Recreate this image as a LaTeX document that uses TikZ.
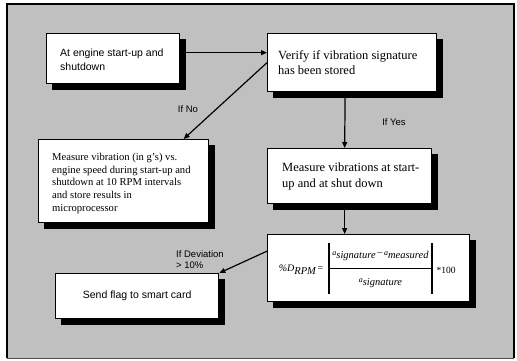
\documentclass[tikz,border=0pt]{standalone}
\usepackage{fontspec}
\setmainfont{Liberation Serif}
\newfontfamily\arialfont{Liberation Sans}
\usetikzlibrary{arrows.meta,backgrounds}
\definecolor{panelgray}{RGB}{192,192,192}
% lowered italic subscript used in the deviation formula
\newcommand{\lowsub}[1]{\raisebox{-3pt}{\fontsize{10.5}{10.5}\selectfont\itshape #1}}

\begin{document}
\begin{tikzpicture}[x=1pt,y=-1pt,
  box/.style={draw=black, line width=1.3pt, fill=white, anchor=north west, inner sep=0pt},
  boxtext/.style={anchor=west, inner sep=0pt, align=left},
  sanstext/.style={font=\arialfont\fontsize{10.5}{14}\selectfont},
  serifbig/.style={font=\fontsize{12.5}{14.5}\selectfont},
  serifsmall/.style={font=\fontsize{10.6}{12.7}\selectfont},
  lbl/.style={font=\arialfont\fontsize{9.5}{11}\selectfont, inner sep=0pt, align=left},
  arr/.style={draw=black, line width=1.2pt, -{Triangle[length=6pt,width=5pt]}},
  formula/.style={inner sep=0pt, font=\fontsize{10}{12}\selectfont},
  bar/.style={draw=black, line width=1.2pt},
  shadowfill/.style={fill=black}
]
\useasboundingbox (0,0) rectangle (517,360);

% panel
\begin{scope}[on background layer]
\fill[panelgray] (7,4) rectangle (514,358);
\draw[black, line width=2pt] (7,358) -- (7,4) -- (514,4) -- (514,358);
\draw[black!70, line width=0.8pt] (7,358) -- (514,358);
\end{scope}

% boxes
\node[box, minimum width=133, minimum height=50] (start) at (46,33) {};
\node[box, minimum width=169, minimum height=58] (verify) at (267,33) {};
\node[box, minimum width=170, minimum height=83] (record) at (38,139) {};
\node[box, minimum width=164, minimum height=55] (measure) at (267,148) {};
\node[box, minimum width=202, minimum height=67] (calc) at (267,234) {};
\node[box, minimum width=163, minimum height=45] (flag) at (55,273) {};

% drop shadows behind the boxes
\begin{scope}[on background layer]
\foreach \b in {start,verify,record,measure,calc,flag}
  \fill[shadowfill] ([xshift=6pt,yshift=-6pt]\b.north west) rectangle ([xshift=6pt,yshift=-6pt]\b.south east);
\end{scope}

% box texts
\node[boxtext, sanstext] (starttext) at ([xshift=14pt,yshift=-1pt]start.west) {At engine start-up and\\shutdown};
\node[boxtext, serifbig] (verifytext) at ([xshift=11pt,yshift=0pt]verify.west) {Verify if vibration signature\\has been stored};
\node[boxtext, serifsmall] (recordtext) at ([xshift=14pt,yshift=-2pt]record.west) {Measure vibration (in g's) vs.\\engine speed during start-up and\\shutdown at 10 RPM intervals\\and store results in\\microprocessor};
\node[boxtext, serifbig, font=\fontsize{12.5}{16}\selectfont] (measuretext) at ([xshift=15pt,yshift=0pt]measure.west) {Measure vibrations at start-\\up and at shut down};
\node[sanstext, inner sep=0pt] (flagtext) at (flag.center) {Send flag to smart card};

% deviation formula
\node[formula] (lhs) at (301,270) {\textit{\%D}\lowsub{RPM}\,=};
\draw[bar] (329,243) coordinate (barLt) -- (329,294) coordinate (barLb);
\draw[bar] (432,243) coordinate (barRt) -- (432,294) coordinate (barRb);
\draw[black, line width=0.9pt] (329,268) coordinate (fracL) -- (432,268) coordinate (fracR);
\node[formula] (num) at (380.5,256) {{\fontsize{8}{8}\selectfont\itshape a}\lowsub{signature}\,--\,{\fontsize{8}{8}\selectfont\itshape a}\lowsub{measured}};
\node[formula] (den) at (380.5,283) {{\fontsize{8}{8}\selectfont\itshape a}\lowsub{signature}};
\node[formula, font=\fontsize{9.5}{11}\selectfont] (times) at (446,270) {*100};

% connectors
\draw[arr] ([yshift=6pt]start.east) -- ([yshift=10pt]verify.west);
\draw[arr] (verify.west) -- ([xshift=60pt]record.north);
\draw[arr] ([xshift=-7pt]verify.south) -- ([xshift=-5pt]measure.north);
\draw[arr] ([xshift=-5pt]measure.south) -- ([xshift=-24pt]calc.north);
\draw[arr] ([yshift=17pt]calc.west) -- (flag.north east);

% branch labels
\node[lbl] (no) at (188,109) {If No};
\node[lbl] (yes) at (394,122) {If Yes};
\node[lbl, anchor=west] (dev) at (176,259.5) {If Deviation\\> 10\%};
\end{tikzpicture}
\end{document}
